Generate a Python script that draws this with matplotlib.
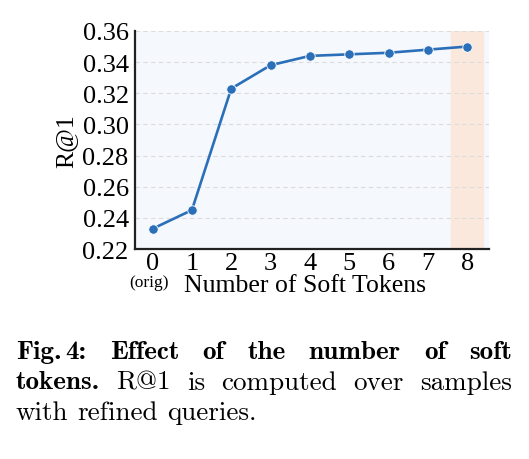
import numpy as np
import matplotlib
matplotlib.use("Agg")
import matplotlib.pyplot as plt

# data
num_tokens = [0, 1, 2, 3, 4, 5, 6, 7, 8]
r_at_1 = [0.233, 0.245, 0.323, 0.338, 0.344, 0.345, 0.346, 0.348, 0.350]
tick_labels = ["0", "1", "2", "3", "4", "5", "6", "7", "8"]
y_ticks = [0.22, 0.24, 0.26, 0.28, 0.30, 0.32, 0.34, 0.36]
highlight = 8

# (word, style, glued to the next word with a thin space)
caption_lines = [
    [("Fig.", "b", True), ("4:", "b", False), ("Effect", "b", False), ("of", "b", False),
     ("the", "b", False), ("number", "b", False), ("of", "b", False), ("soft", "b", False)],
    [("tokens.", "b", False), ("R@1", "r", False), ("is", "r", False), ("computed", "r", False),
     ("over", "r", False), ("samples", "r", False)],
    [("with", "r", False), ("refined", "r", False), ("queries.", "r", False)],
]

serif = ["Liberation Serif", "DejaVu Serif"]
fig = plt.figure(figsize=(5.29, 4.60), dpi=100)
ax = fig.add_axes([0.255, 0.4565, 0.669, 0.474])

ax.set_facecolor("#f5f8fd")
ax.axvspan(highlight - 0.4, highlight + 0.4, color="#fbe8dc", zorder=0)
ax.plot(num_tokens, r_at_1, color="#2b6fb8", lw=1.9, marker="o", ms=6.8,
        mec="white", mew=0.6, zorder=3)

ax.set_xlim(-0.45, 8.55)
ax.set_ylim(0.22, 0.36)
ax.set_yticks(y_ticks)
ax.set_yticklabels(["%.2f" % v for v in y_ticks], family=serif, fontsize=19)
ax.set_xticks(num_tokens)
ax.set_xticklabels(tick_labels, family=serif, fontsize=19)
ax.tick_params(axis="y", length=0, pad=4.5)
ax.tick_params(axis="x", length=0, pad=2)
ax.grid(axis="y", ls=(0, (4, 3)), color="#dcdcdc", lw=0.8)
ax.set_axisbelow(True)
for s in ["top", "right"]:
    ax.spines[s].set_visible(False)
for s in ["left", "bottom"]:
    ax.spines[s].set_linewidth(1.6)
    ax.spines[s].set_color("#222222")

ax.set_ylabel("R@1", family=serif, fontsize=18.5, labelpad=4)
ax.set_xlabel("Number of Soft Tokens", family=serif, fontsize=18.5)
ax.xaxis.set_label_coords(0.48, -0.115)
ax.text(-0.08, -0.152, "(orig)", transform=ax.get_xaxis_transform(),
        ha="center", va="center", family=serif, fontsize=12.5)

# caption, justified like the LaTeX original
left_px, right_px = 16, 512
line_y = [353, 383, 413]
thin = 4
fam = {"b": ["cmb10", "DejaVu Serif"], "r": ["cmr10", "DejaVu Serif"]}
renderer = fig.canvas.get_renderer()
for li, words in enumerate(caption_lines):
    objs = []
    for w, style, glue in words:
        t = fig.text(0, 1 - line_y[li] / 460, w, family=fam[style], fontsize=19.5,
                     va="center", ha="left")
        objs.append(t)
    widths = [o.get_window_extent(renderer).width for o in objs]
    n_glued = sum(1 for w in words if w[2])
    n_gaps = len(objs) - 1 - n_glued
    if li < len(caption_lines) - 1:
        gap = (right_px - left_px - sum(widths) - thin * n_glued) / n_gaps
    else:
        gap = 9
    x = left_px
    for o, wd, wspec in zip(objs, widths, words):
        o.set_x(x / 529)
        x += wd + (thin if wspec[2] else gap)

fig.savefig("out.png", dpi=100)
